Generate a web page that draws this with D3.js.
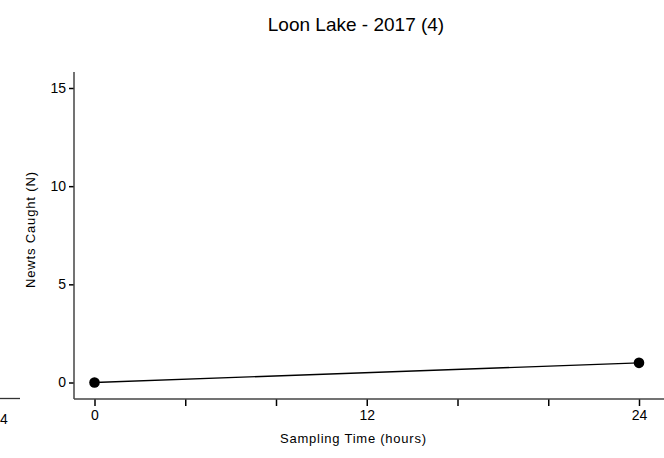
<!DOCTYPE html>
<html><head><meta charset="utf-8">
<script src="https://cdn.jsdelivr.net/npm/d3@7"></script>
<style>body{margin:0;background:#fff}svg{display:block}text{font-family:"Liberation Sans",Arial,sans-serif;fill:#000}</style>
</head><body>
<svg id="c" width="664" height="458"></svg>
<script>
const hours = [0, 24];
const newts = [0, 1];
const xTicks = [0, 4, 8, 12, 16, 20, 24];
const xTickLabels = [0, 12, 24];
const yTicks = [0, 5, 10, 15];
const title = "Loon Lake - 2017 (4)";

const svg = d3.select("#c");
const x = d3.scaleLinear().domain([0, 24]).range([94.5, 639]);
const y = d3.scaleLinear().domain([0, 15]).range([382.5, 88]);
const axisY = 399, axisX = 74;

// fragment of neighbouring panel axis
svg.append("line").attr("x1", 0).attr("x2", 20).attr("y1", axisY - 0.5).attr("y2", axisY - 0.5)
  .attr("stroke", "#333").attr("stroke-width", 1.3);
svg.append("text").attr("x", 0).attr("y", 424).attr("font-size", 14).text("4");

// title
svg.append("text").attr("x", 356).attr("y", 31).attr("text-anchor", "middle")
  .attr("font-size", 19).text(title);

// y axis
const gy = svg.append("g").attr("transform", `translate(${axisX},0)`)
  .call(d3.axisLeft(y).tickValues(yTicks).tickSize(5).tickSizeOuter(0).tickPadding(3));
gy.select(".domain").remove();
gy.selectAll(".tick line").attr("stroke", "#000").attr("stroke-width", 1.5);
gy.selectAll(".tick text").attr("font-size", 14).attr("font-family", '"Liberation Sans",Arial,sans-serif');
svg.append("line").attr("x1", axisX).attr("x2", axisX).attr("y1", 72).attr("y2", axisY)
  .attr("stroke", "#444").attr("stroke-width", 1.5);

// x axis
const gx = svg.append("g").attr("transform", `translate(0,${axisY})`)
  .call(d3.axisBottom(x).tickValues(xTicks).tickSize(7).tickSizeOuter(0).tickPadding(4)
    .tickFormat(d => xTickLabels.includes(d) ? d : ""));
gx.select(".domain").remove();
gx.selectAll(".tick line").attr("stroke", "#000").attr("stroke-width", 1.5);
gx.selectAll(".tick text").attr("font-size", 14).attr("font-family", '"Liberation Sans",Arial,sans-serif');
svg.append("line").attr("x1", axisX).attr("x2", 664).attr("y1", axisY).attr("y2", axisY)
  .attr("stroke", "#444").attr("stroke-width", 1.5);

// axis labels
svg.append("text").attr("transform", "translate(35,230) rotate(-90)").attr("text-anchor", "middle")
  .attr("font-size", 13).attr("textLength", 116).attr("lengthAdjust", "spacing").text("Newts Caught (N)");
svg.append("text").attr("x", 353).attr("y", 443).attr("text-anchor", "middle")
  .attr("font-size", 13).attr("textLength", 146).attr("lengthAdjust", "spacing").text("Sampling Time (hours)");

// data
const pts = hours.map((h, i) => [h, newts[i]]);
svg.append("path").datum(pts)
  .attr("d", d3.line().x(d => x(d[0])).y(d => y(d[1])))
  .attr("fill", "none").attr("stroke", "#000").attr("stroke-width", 1.3);
svg.selectAll("circle.pt").data(pts).join("circle").attr("class", "pt")
  .attr("cx", d => x(d[0])).attr("cy", d => y(d[1])).attr("r", 5.3).attr("fill", "#000");
</script>
</body></html>
